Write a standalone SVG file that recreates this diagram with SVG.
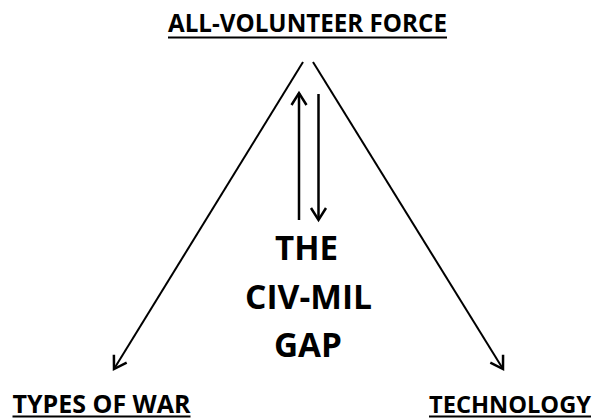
<svg xmlns="http://www.w3.org/2000/svg" width="599" height="419" viewBox="0 0 599 419">
<style>
.lbl{font-family:"Open Sans","Liberation Sans",sans-serif;font-weight:bold;fill:#000}
.ul{stroke:#000;stroke-width:2}
.conn{stroke:#000;fill:none;stroke-linecap:butt}
</style>
<defs>
<marker id="ah" markerUnits="userSpaceOnUse" markerWidth="30" markerHeight="30" refX="0" refY="0" viewBox="-15 -15 30 30" orient="auto">
<path d="M-12,-7.5 L0,0 L-12,7.5" fill="none" stroke="#000" stroke-width="2.5" stroke-linejoin="miter"/>
</marker>
</defs>
<rect width="599" height="419" fill="#fff"/>
<g id="avf">
<text class="lbl" x="307.5" y="31.5" font-size="25" text-anchor="middle" textLength="279" lengthAdjust="spacingAndGlyphs">ALL-VOLUNTEER FORCE</text>
<line class="ul" x1="168" y1="37.5" x2="447" y2="37.5"/>
</g>
<g id="gap">
<text class="lbl" x="306.5" y="260" font-size="34" text-anchor="middle" textLength="63" lengthAdjust="spacingAndGlyphs">THE</text>
<text class="lbl" x="308.5" y="309" font-size="34" text-anchor="middle" textLength="127" lengthAdjust="spacingAndGlyphs">CIV-MIL</text>
<text class="lbl" x="308" y="357" font-size="34" text-anchor="middle" textLength="68" lengthAdjust="spacingAndGlyphs">GAP</text>
</g>
<g id="types">
<text class="lbl" x="12.5" y="412.5" font-size="25" textLength="178" lengthAdjust="spacingAndGlyphs">TYPES OF WAR</text>
<line class="ul" x1="12.5" y1="416.5" x2="190.5" y2="416.5"/>
</g>
<g id="tech">
<text class="lbl" x="429" y="412.5" font-size="24" textLength="162" lengthAdjust="spacingAndGlyphs">TECHNOLOGY</text>
<line class="ul" x1="429" y1="416.5" x2="591" y2="416.5"/>
</g>
<g id="connectors">
<line class="conn" stroke-width="2" x1="303" y1="62" x2="114" y2="369" marker-end="url(#ah)"/>
<line class="conn" stroke-width="2" x1="313" y1="62" x2="503" y2="369" marker-end="url(#ah)"/>
<line class="conn" stroke-width="2.5" x1="299" y1="220" x2="299" y2="93" marker-end="url(#ah)"/>
<line class="conn" stroke-width="2.5" x1="318.5" y1="94" x2="318.5" y2="220" marker-end="url(#ah)"/>
</g>
</svg>
